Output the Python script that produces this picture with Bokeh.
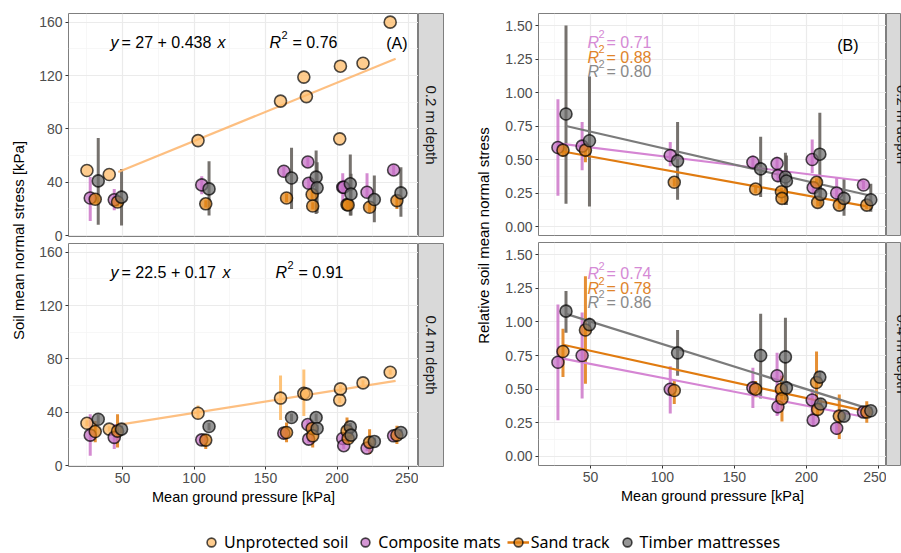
import math
from bokeh.plotting import figure
from bokeh.models import (Range1d, FixedTicker, Label, Legend, LegendItem,
                          ColumnDataSource, NumeralTickFormatter)
from bokeh.layouts import row, column
from bokeh.embed import file_html
from bokeh.resources import INLINE

# ---------------- data ----------------
treatments = ["Unprotected soil", "Composite mats", "Sand track", "Timber mattresses"]
depths = ["0.2 m depth", "0.4 m depth"]

x_ticks = [50, 100, 150, 200, 250]
x_minor = [25, 75, 125, 175, 225]
yA_ticks = [0, 40, 80, 120, 160]
yA_minor = [20, 60, 100, 140]
yB_ticks = [0.0, 0.25, 0.5, 0.75, 1.0, 1.25, 1.5]
yB_minor = [0.125, 0.375, 0.625, 0.875, 1.125, 1.375]

# mean ground pressure [kPa] per treatment (10 sites)
x_unprot = [25.1, 40.7, 102.8, 160.5, 176.8, 178.6, 201.9, 202.4, 218.2, 237.2]
x_comp = [27.4, 44.2, 105.4, 162.8, 179.6, 180.2, 204.0, 204.7, 221.0, 239.6]
x_sand = [30.9, 46.5, 108.2, 164.7, 182.6, 183.0, 207.0, 207.8, 222.8, 241.9]
x_timb = [33.0, 49.3, 110.5, 168.2, 185.4, 186.1, 209.3, 209.8, 226.1, 244.7]

# (A) soil mean normal stress [kPa], 0.2 m depth
unprot_02 = [48.8, 45.8, 71.2, 100.8, 118.8, 104.2, 72.5, 127.0, 129.2, 160.0]
comp_02 = [28.2, 26.8, 38.0, 48.2, 55.2, 39.2, 36.2, 36.2, 32.5, 49.2]
comp_lo02 = [11.0, 19.0, 31.0, 44.0, 51.0, 35.0, 25.0, 30.0, 28.5, 45.0]
comp_hi02 = [44.0, 35.0, 44.5, 52.0, 59.0, 43.0, 46.8, 42.0, 46.8, 53.0]
sand_02 = [27.2, 25.2, 23.8, 28.2, 30.8, 22.2, 23.2, 23.0, 21.2, 26.2]
sand_lo02 = [24.0, 22.0, 21.0, 25.0, 27.5, 19.5, 20.0, 20.5, 17.5, 20.0]
sand_hi02 = [30.5, 28.5, 26.5, 31.5, 34.0, 25.0, 26.5, 26.0, 24.5, 30.0]
timb_02 = [41.0, 28.8, 35.0, 43.2, 43.8, 35.8, 38.8, 31.2, 27.0, 32.0]
timb_lo02 = [8.2, 7.5, 15.0, 20.0, 16.2, 17.0, 15.0, 15.0, 10.0, 14.2]
timb_hi02 = [73.2, 50.0, 55.8, 65.8, 63.8, 55.0, 60.8, 46.3, 45.0, 51.2]
fitA_x = [47.0, 241.0]
fitA_02 = [47.6, 132.6]

# (A) soil mean normal stress [kPa], 0.4 m depth
unprot_04 = [31.7, 27.3, 39.2, 50.6, 54.1, 53.6, 49.1, 57.5, 62.0, 70.0]
unprot_lo04 = [29.5, 25.5, 35.0, 34.2, 37.2, 51.0, 47.0, 55.0, 60.0, 68.0]
unprot_hi04 = [34.0, 29.5, 45.0, 67.5, 72.0, 56.0, 51.5, 60.0, 64.0, 72.0]
comp_04 = [22.8, 21.1, 19.3, 24.3, 30.8, 19.8, 20.3, 14.9, 13.1, 22.3]
comp_lo04 = [7.4, 12.4, 16.5, 21.5, 27.5, 17.0, 17.5, 12.5, 11.0, 19.5]
comp_hi04 = [38.4, 31.0, 22.0, 27.0, 34.0, 22.5, 23.0, 17.5, 15.5, 25.0]
sand_04 = [25.5, 25.8, 19.1, 24.8, 27.8, 22.3, 26.0, 20.3, 17.4, 22.8]
sand_lo04 = [17.4, 13.6, 12.4, 17.4, 24.0, 13.6, 17.4, 17.5, 8.7, 16.1]
sand_hi04 = [33.5, 38.4, 23.6, 32.2, 31.0, 29.8, 36.0, 23.0, 27.3, 29.8]
timb_04 = [34.7, 27.3, 29.3, 36.0, 36.0, 27.8, 29.0, 22.8, 18.1, 24.8]
timb_lo04 = [31.0, 24.5, 26.5, 33.0, 33.0, 25.0, 26.0, 20.0, 15.5, 22.0]
timb_hi04 = [38.5, 30.0, 32.0, 39.0, 39.0, 30.5, 32.0, 25.5, 21.0, 27.5]
fitA_04 = [30.5, 63.5]

# (B) relative soil mean normal stress, 0.2 m depth
comp_r02 = [0.59, 0.60, 0.53, 0.48, 0.47, 0.38, 0.50, 0.29, 0.25, 0.31]
comp_rlo02 = [0.23, 0.42, 0.45, 0.43, 0.42, 0.33, 0.40, 0.25, 0.20, 0.28]
comp_rhi02 = [0.95, 0.78, 0.63, 0.53, 0.52, 0.43, 0.65, 0.33, 0.37, 0.34]
sand_r02 = [0.57, 0.57, 0.33, 0.28, 0.26, 0.21, 0.33, 0.18, 0.16, 0.16]
sand_rlo02 = [0.52, 0.48, 0.30, 0.25, 0.23, 0.18, 0.30, 0.15, 0.13, 0.13]
sand_rhi02 = [0.60, 0.62, 0.36, 0.31, 0.29, 0.24, 0.36, 0.21, 0.19, 0.19]
timb_r02 = [0.84, 0.64, 0.49, 0.43, 0.37, 0.34, 0.54, 0.24, 0.21, 0.20]
timb_rlo02 = [0.17, 0.15, 0.20, 0.22, 0.16, 0.16, 0.21, 0.15, 0.08, 0.11]
timb_rhi02 = [1.50, 1.12, 0.78, 0.67, 0.55, 0.53, 0.85, 0.35, 0.36, 0.32]
fitB_comp02 = [0.62, 0.34]
fitB_sand02 = [0.56, 0.15]
fitB_timb02 = [0.75, 0.23]
r2_02 = ["0.71", "0.88", "0.80"]

# (B) relative soil mean normal stress, 0.4 m depth
comp_r04 = [0.70, 0.75, 0.50, 0.51, 0.60, 0.37, 0.42, 0.27, 0.21, 0.33]
comp_rlo04 = [0.27, 0.43, 0.32, 0.36, 0.30, 0.31, 0.30, 0.22, 0.16, 0.29]
comp_rhi04 = [1.13, 1.07, 0.67, 0.66, 0.77, 0.45, 0.50, 0.32, 0.25, 0.36]
sand_r04 = [0.78, 0.94, 0.49, 0.50, 0.50, 0.43, 0.55, 0.35, 0.30, 0.33]
sand_rlo04 = [0.59, 0.54, 0.39, 0.44, 0.40, 0.26, 0.42, 0.30, 0.13, 0.25]
sand_rhi04 = [0.95, 1.34, 0.57, 0.56, 0.60, 0.60, 0.78, 0.40, 0.46, 0.41]
timb_r04 = [1.08, 0.98, 0.77, 0.75, 0.74, 0.51, 0.59, 0.39, 0.30, 0.34]
timb_rlo04 = [0.92, 0.93, 0.60, 0.43, 0.42, 0.45, 0.55, 0.35, 0.27, 0.31]
timb_rhi04 = [1.23, 1.03, 0.94, 1.06, 1.03, 0.56, 0.63, 0.43, 0.33, 0.37]
fitB_comp04 = [0.735, 0.295]
fitB_sand04 = [0.83, 0.335]
fitB_timb04 = [1.06, 0.35]
r2_04 = ["0.74", "0.78", "0.86"]

# ---------------- styles ----------------
FONT = "Liberation Sans"
fill_cols = ["#FDB863", "#C36EC3", "#E08214", "#6E6E6E"]
bar_cols = ["#FDB863", "#CC77C9", "#E07B10", "#5E5955"]
fit_cols = ["#FDB873", "#D585D3", "#E07B10", "#7B7B7B"]
txt_cols = ["#000000", "#D58AD5", "#E0842A", "#8A8A8A"]
BORDER = "#7F7F7F"

XA = (12.2, 257.0)
XB = (13.9, 255.6)
YA = (-0.7, 166.5)
YB = (-0.067, 1.59)


def make_panel(xr, yr, yticks, yminor, show_x, mbl, mbt, mbb, fw, fh, numfmt=None):
    p = figure(width=mbl + fw, height=mbt + fh + mbb,
               x_range=Range1d(*xr), y_range=Range1d(*yr),
               output_backend="svg", toolbar_location=None,
               x_axis_location="below" if show_x else None,
               min_border_left=mbl, min_border_right=0,
               min_border_top=mbt, min_border_bottom=mbb)
    p.outline_line_color = BORDER
    p.outline_line_width = 1
    p.xgrid.ticker = FixedTicker(ticks=x_ticks, minor_ticks=x_minor)
    p.ygrid.ticker = FixedTicker(ticks=yticks, minor_ticks=yminor)
    for g in list(p.xgrid) + list(p.ygrid):
        g.grid_line_color = "#EBEBEB"
        g.grid_line_width = 1.2
        g.minor_grid_line_color = "#F3F3F3"
        g.minor_grid_line_width = 0.7
    axes = list(p.yaxis) + (list(p.xaxis) if show_x else [])
    for ax in axes:
        ax.axis_line_color = None
        ax.major_tick_line_color = "#333333"
        ax.major_tick_out = 3
        ax.major_tick_in = 0
        ax.minor_tick_line_color = None
        ax.major_label_text_font = FONT
        ax.major_label_text_font_size = "14px"
        ax.major_label_text_color = "#4D4D4D"
        ax.major_label_standoff = 3
    p.yaxis.ticker = FixedTicker(ticks=yticks)
    if numfmt:
        p.yaxis.formatter = NumeralTickFormatter(format=numfmt)
    if show_x:
        p.xaxis.ticker = FixedTicker(ticks=x_ticks)
        p.xaxis.axis_label = "Mean ground pressure [kPa]"
        p.xaxis.axis_label_text_font = FONT
        p.xaxis.axis_label_text_font_size = "14.5px"
        p.xaxis.axis_label_text_font_style = "normal"
        p.xaxis.axis_label_text_color = "#000000"
        p.xaxis.axis_label_standoff = 3
    return p


def bars(p, xs, lo, hi, col):
    p.segment(x0=xs, y0=lo, x1=xs, y1=hi, line_color=col, line_width=3, line_alpha=0.85)


def points(p, xs, ys, col):
    p.scatter(xs, ys, size=12, fill_color=col, fill_alpha=0.72,
              line_color="#000000", line_alpha=0.7, line_width=1.6)


def frame_map(xr, yr, L, T, W, H):
    def fx(px):
        return xr[0] + (px - L) * (xr[1] - xr[0]) / W

    def fy(py):
        return yr[1] - (py - T) * (yr[1] - yr[0]) / H
    return fx, fy


def txt(p, x, y, text, size="16px", style="normal", color="#000000", align="left", font=FONT):
    p.add_layout(Label(x=x, y=y, text=text, text_font=font, text_font_size=size,
                       text_font_style=style, text_color=color, text_align=align,
                       text_baseline="alphabetic"))


def strip(label, w, h, mbt, mbb, lx=0.5):
    s = figure(width=w, height=h, x_range=Range1d(0, w / 26.0), y_range=Range1d(0, 1),
               output_backend="svg", toolbar_location=None,
               x_axis_location=None, y_axis_location=None,
               min_border_left=0, min_border_right=0, min_border_top=mbt, min_border_bottom=mbb)
    s.grid.visible = False
    s.background_fill_color = "#D9D9D9"
    s.outline_line_color = BORDER
    s.add_layout(Label(x=lx, y=0.5, text=label, angle=-math.pi / 2, text_font=FONT,
                       text_font_size="15px", text_color="#1A1A1A",
                       text_align="center", text_baseline="middle"))
    return s


# ---------------- panel A ----------------
pAt = make_panel(XA, YA, yA_ticks, yA_minor, False, 38, 13, 7, 350, 223)
bars(pAt, x_comp, comp_lo02, comp_hi02, bar_cols[1])
bars(pAt, x_sand, sand_lo02, sand_hi02, bar_cols[2])
bars(pAt, x_timb, timb_lo02, timb_hi02, bar_cols[3])
pAt.line(fitA_x, fitA_02, line_color=fit_cols[0], line_width=2.2, line_alpha=0.9)
points(pAt, x_unprot, unprot_02, fill_cols[0])
points(pAt, x_comp, comp_02, fill_cols[1])
points(pAt, x_sand, sand_02, fill_cols[2])
points(pAt, x_timb, timb_02, fill_cols[3])

pAb = make_panel(XA, YA, yA_ticks, yA_minor, True, 38, 0, 54, 350, 223)
bars(pAb, x_unprot, unprot_lo04, unprot_hi04, bar_cols[0])
bars(pAb, x_comp, comp_lo04, comp_hi04, bar_cols[1])
bars(pAb, x_sand, sand_lo04, sand_hi04, bar_cols[2])
bars(pAb, x_timb, timb_lo04, timb_hi04, bar_cols[3])
pAb.line(fitA_x, fitA_04, line_color=fit_cols[0], line_width=2.2, line_alpha=0.9)
points(pAb, x_unprot, unprot_04, fill_cols[0])
points(pAb, x_comp, comp_04, fill_cols[1])
points(pAb, x_sand, sand_04, fill_cols[2])
points(pAb, x_timb, timb_04, fill_cols[3])

# annotations (A)
fx, fy = frame_map(XA, YA, 68, 13, 350, 223)
txt(pAt, fx(110), fy(42), "y", style="italic")
txt(pAt, fx(121), fy(42), "= 27 + 0.438")
txt(pAt, fx(217), fy(42), "x", style="italic")
txt(pAt, fx(269), fy(42), "R", style="italic")
txt(pAt, fx(281), fy(34), "2", size="11px")
txt(pAt, fx(292), fy(42), "= 0.76")
txt(pAt, fx(407), fy(43), "(A)", align="right")
fx2, fy2 = frame_map(XA, YA, 68, 243, 350, 223)
txt(pAb, fx2(110), fy2(272), "y", style="italic")
txt(pAb, fx2(121), fy2(272), "= 22.5 + 0.17")
txt(pAb, fx2(222), fy2(272), "x", style="italic")
txt(pAb, fx2(275), fy2(272), "R", style="italic")
txt(pAb, fx2(287), fy2(264), "2", size="11px")
txt(pAb, fx2(298), fy2(272), "= 0.91")

# ---------------- panel B ----------------
pBt = make_panel(XB, YB, yB_ticks, yB_minor, False, 40, 13, 7, 348, 222, "0.00")
bars(pBt, x_comp, comp_rlo02, comp_rhi02, bar_cols[1])
bars(pBt, x_sand, sand_rlo02, sand_rhi02, bar_cols[2])
bars(pBt, x_timb, timb_rlo02, timb_rhi02, bar_cols[3])
pBt.line([x_comp[0], x_comp[-1]], fitB_comp02, line_color=fit_cols[1], line_width=2.2)
pBt.line([x_sand[0], x_sand[-1]], fitB_sand02, line_color=fit_cols[2], line_width=2.2)
pBt.line([x_timb[0], x_timb[-1]], fitB_timb02, line_color=fit_cols[3], line_width=2.2)
points(pBt, x_comp, comp_r02, fill_cols[1])
points(pBt, x_sand, sand_r02, fill_cols[2])
points(pBt, x_timb, timb_r02, fill_cols[3])

pBb = make_panel(XB, YB, yB_ticks, yB_minor, True, 40, 0, 55, 348, 223, "0.00")
bars(pBb, x_comp, comp_rlo04, comp_rhi04, bar_cols[1])
bars(pBb, x_sand, sand_rlo04, sand_rhi04, bar_cols[2])
bars(pBb, x_timb, timb_rlo04, timb_rhi04, bar_cols[3])
pBb.line([x_comp[0], x_comp[-1]], fitB_comp04, line_color=fit_cols[1], line_width=2.2)
pBb.line([x_sand[0], x_sand[-1]], fitB_sand04, line_color=fit_cols[2], line_width=2.2)
pBb.line([x_timb[0], x_timb[-1]], fitB_timb04, line_color=fit_cols[3], line_width=2.2)
points(pBb, x_comp, comp_r04, fill_cols[1])
points(pBb, x_sand, sand_r04, fill_cols[2])
points(pBb, x_timb, timb_r04, fill_cols[3])

fxt, fyt = frame_map(XB, YB, 538, 13, 348, 222)
for i, (r2, base) in enumerate(zip(r2_02, [41.5, 56.5, 71.0])):
    c = txt_cols[i + 1]
    txt(pBt, fxt(587), fyt(base), "R", style="italic", color=c)
    txt(pBt, fxt(598), fyt(base - 8), "2", size="11px", color=c)
    txt(pBt, fxt(606), fyt(base), "= " + r2, color=c)
txt(pBt, fxt(858), fyt(45), "(B)", align="right")

fxb, fyb = frame_map(XB, YB, 538, 242, 348, 223)
for i, (r2, base) in enumerate(zip(r2_04, [273.0, 288.0, 301.5])):
    c = txt_cols[i + 1]
    txt(pBb, fxb(587), fyb(base), "R", style="italic", color=c)
    txt(pBb, fxb(598), fyb(base - 8), "2", size="11px", color=c)
    txt(pBb, fxb(606), fyb(base), "= " + r2, color=c)

# ---------------- strips ----------------
sAt = strip(depths[0], 26, 243, 13, 7)
sAb = strip(depths[1], 26, 277, 0, 54)
sBt = strip(depths[0], 15, 242, 13, 7, lx=0.6)
sBb = strip(depths[1], 15, 278, 0, 55, lx=0.6)


# ---------------- y titles ----------------
def ytitle(text, w, h, x, y):
    f = figure(width=w, height=h, x_range=Range1d(0, w), y_range=Range1d(0, h),
               output_backend="svg", toolbar_location=None,
               x_axis_location=None, y_axis_location=None,
               min_border_left=0, min_border_right=0, min_border_top=0, min_border_bottom=0)
    f.grid.visible = False
    f.outline_line_color = None
    f.add_layout(Label(x=x, y=y, text=text, angle=math.pi / 2, text_font=FONT,
                       text_font_size="15px", text_color="#000000",
                       text_align="center", text_baseline="middle"))
    return f


yA = ytitle("Soil mean normal stress [kPa]", 30, 520, 18, 520 - 240)
yB = ytitle("Relative soil mean normal stress", 54, 520, 39, 520 - 235)

# ---------------- legend ----------------
leg = figure(width=901, height=33, x_range=Range1d(0, 1), y_range=Range1d(0, 1),
             output_backend="svg", toolbar_location=None,
             x_axis_location=None, y_axis_location=None,
             min_border_left=0, min_border_right=0, min_border_top=0, min_border_bottom=0)
leg.grid.visible = False
leg.outline_line_color = None
items = []
for i, name in enumerate(treatments):
    # a single key point placed outside the visible range: only the legend glyph shows
    src = ColumnDataSource(data=dict(x=[-5.0], y=[-5.0]))
    rs = []
    if i == 2:
        rs.append(leg.line("x", "y", source=src, line_color=bar_cols[2], line_width=2.5))
    rs.append(leg.scatter("x", "y", source=src, size=12, fill_color=fill_cols[i], fill_alpha=0.72,
                          line_color="#000000", line_alpha=0.7, line_width=1.6))
    items.append(LegendItem(label=name, renderers=rs))
legend = Legend(items=items, orientation="horizontal", location=(200, 0),
                label_text_font="Noto Sans", label_text_font_size="16px",
                label_text_color="#000000", glyph_width=22, glyph_height=22,
                label_standoff=2, spacing=6, padding=0, margin=0,
                border_line_color=None, background_fill_alpha=0)
leg.add_layout(legend)

# ---------------- layout ----------------
colA = column(row(pAt, sAt, spacing=0), row(pAb, sAb, spacing=0), spacing=0)
colB = column(row(pBt, sBt, spacing=0), row(pBb, sBb, spacing=0), spacing=0)
top = row(yA, colA, yB, colB, spacing=0)
layout = column(top, leg, spacing=0)

open("out.html", "w").write(file_html(layout, INLINE))
